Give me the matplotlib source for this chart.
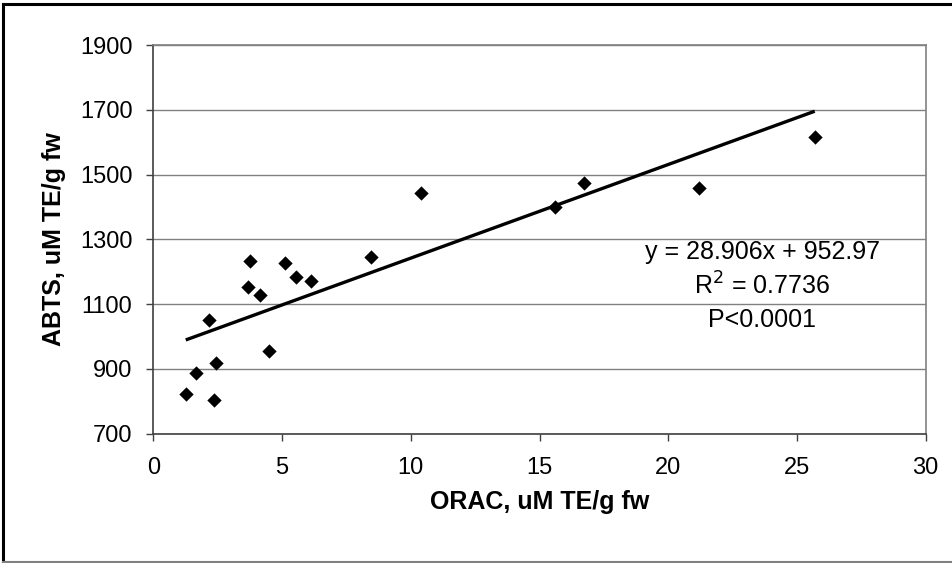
import matplotlib
matplotlib.use("Agg")
import matplotlib.pyplot as plt
import numpy as np
from matplotlib.lines import Line2D

plt.rcParams['font.family'] = ['Liberation Sans', 'DejaVu Sans']

# Data
orac = [1.26, 1.64, 2.35, 2.43, 2.16, 4.50, 3.68, 3.75, 4.14, 5.13, 5.54, 6.14,
        8.47, 10.40, 15.61, 16.73, 21.21, 25.69]
abts = [822, 888, 804, 919, 1051, 956, 1152, 1232, 1127, 1227, 1183, 1171,
        1247, 1444, 1399, 1474, 1458, 1617]
slope = 28.906
intercept = 952.97
x_ticks = [0, 5, 10, 15, 20, 25, 30]
y_ticks = [700, 900, 1100, 1300, 1500, 1700, 1900]
eq_lines = ["y = 28.906x + 952.97", "R$^2$ = 0.7736", "P<0.0001"]

fig = plt.figure(figsize=(9.52, 5.63), dpi=100)
ax = fig.add_axes([153.3/952, 1-433.7/563, (925.7-153.3)/952, (433.7-45)/563])

# gridlines
ax.set_axisbelow(True)
ax.yaxis.grid(True, color='#808080', linewidth=1.0)

ax.scatter(orac, abts, marker='D', s=7.3**2, color='black', zorder=3, linewidths=0)

xl = np.array([min(orac), max(orac)])
ax.plot(xl, slope*xl + intercept, color='black', linewidth=2.4, zorder=2, solid_capstyle='butt')

ax.set_xlim(0, 30)
ax.set_ylim(700, 1900)
ax.set_xticks(x_ticks)
ax.set_yticks(y_ticks)
ax.tick_params(axis='both', labelsize=17, direction='out', length=5, width=1, color='#404040')
ax.tick_params(axis='x', pad=12)
ax.tick_params(axis='y', pad=10)

for s in ['left', 'bottom']:
    ax.spines[s].set_color('#404040')
    ax.spines[s].set_linewidth(1.2)
for s in ['top', 'right']:
    ax.spines[s].set_color('#808080')
    ax.spines[s].set_linewidth(1.2)

ax.set_xlabel("ORAC, uM TE/g fw", fontsize=18, fontweight='bold', labelpad=8)
ax.set_ylabel("ABTS, uM TE/g fw", fontsize=18, fontweight='bold', labelpad=10)

ys = [1262, 1155, 1050]
for t, yv in zip(eq_lines, ys):
    ax.text(23.65, yv, t, fontsize=18, ha='center', va='center')

# outer chart border
fig.add_artist(Line2D([3/952, 1], [1-4/563, 1-4/563], color='black', linewidth=2.2, transform=fig.transFigure))
fig.add_artist(Line2D([3/952, 3/952], [1-4/563, 1-562/563], color='black', linewidth=2.2, transform=fig.transFigure))
fig.add_artist(Line2D([3/952, 1], [1-562/563, 1-562/563], color='#808080', linewidth=1.5, transform=fig.transFigure))

fig.savefig("out.png", dpi=100)
